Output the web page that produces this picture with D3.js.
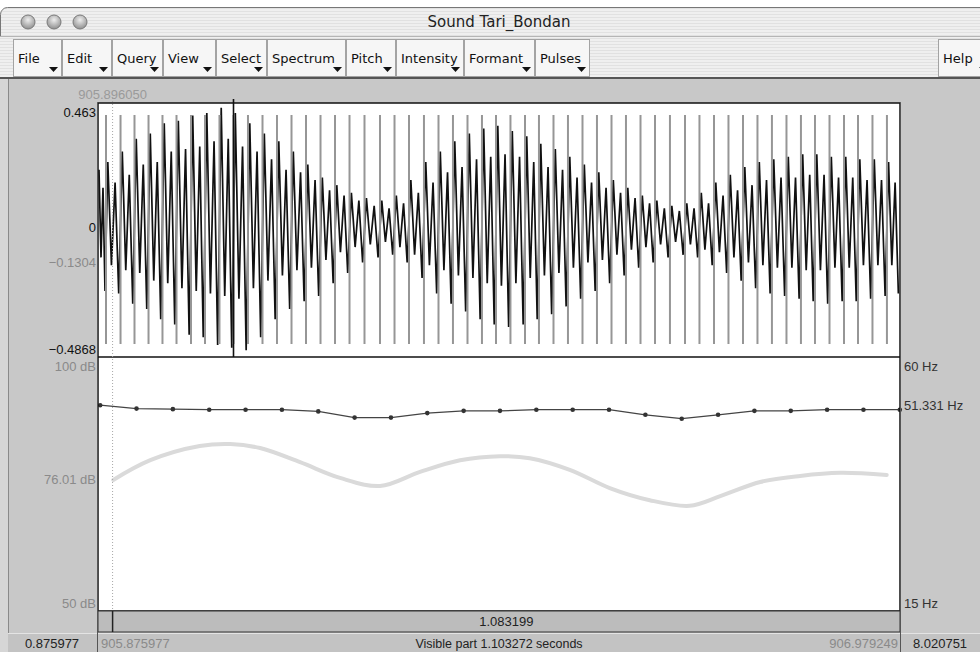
<!DOCTYPE html>
<html>
<head>
<meta charset="utf-8">
<script src="https://cdn.jsdelivr.net/npm/d3@7"></script>
<style>
body { margin: 0; background: #fff; }
svg { display: block; font-family: "Liberation Sans", Arial, sans-serif; }
</style>
</head>
<body>
<svg id="chart" width="980" height="652"></svg>
<script>
// Sound Tari_Bondan, visible window (seconds)
var soundStart = 905.0, soundEnd = 915.0;
var viewStart = 905.875977, viewEnd = 906.979249;
var cursorTime = 905.896050;

// values read at the cursor
var waveMax = 0.463, waveMin = -0.4868, cursorWave = -0.1304;
var cursorDb = 76.01, cursorHz = 51.331;
var dbRange = [50, 100], hzRange = [15, 60];

// glottal pulses, seconds after viewStart
var pulseTimes = [0.0110, 0.0310, 0.0502, 0.0695, 0.0887, 0.1080, 0.1279, 0.1472, 0.1671, 0.1864,
  0.2063, 0.2263, 0.2462, 0.2662, 0.2861, 0.3061, 0.3260, 0.3460, 0.3666, 0.3879,
  0.4079, 0.4278, 0.4484, 0.4684, 0.4883, 0.5083, 0.5282, 0.5475, 0.5674, 0.5874,
  0.6066, 0.6266, 0.6465, 0.6665, 0.6864, 0.7064, 0.7263, 0.7463, 0.7662, 0.7868,
  0.8075, 0.8274, 0.8474, 0.8673, 0.8873, 0.9072, 0.9271, 0.9471, 0.9670, 0.9863,
  1.0063, 1.0262, 1.0455, 1.0654, 1.0853];
var markedPulse = 0.1864;

// waveform peaks inside each period (before first pulse .. after last pulse)
var waveRows = [
  [0.22, -0.12, 0.15, -0.25], [0.25, -0.15, 0.17, -0.26], [0.29, -0.17, 0.20, -0.30], [0.34, -0.18, 0.24, -0.32],
  [0.36, -0.21, 0.25, -0.36], [0.40, -0.22, 0.29, -0.38], [0.41, -0.24, 0.30, -0.42], [0.43, -0.25, 0.31, -0.43],
  [0.44, -0.26, 0.33, -0.46], [0.46, -0.27, 0.34, -0.47], [0.44, -0.28, 0.31, -0.48], [0.40, -0.24, 0.29, -0.43],
  [0.36, -0.21, 0.26, -0.36], [0.33, -0.19, 0.22, -0.32], [0.29, -0.17, 0.21, -0.29], [0.24, -0.16, 0.18, -0.27],
  [0.19, -0.13, 0.14, -0.22], [0.16, -0.10, 0.12, -0.18], [0.13, -0.08, 0.10, -0.14], [0.11, -0.07, 0.08, -0.12],
  [0.10, -0.06, 0.07, -0.11], [0.12, -0.08, 0.09, -0.14], [0.18, -0.11, 0.13, -0.20], [0.25, -0.15, 0.17, -0.26],
  [0.29, -0.17, 0.21, -0.30], [0.33, -0.19, 0.23, -0.33], [0.36, -0.20, 0.26, -0.36], [0.38, -0.22, 0.27, -0.38],
  [0.39, -0.23, 0.28, -0.39], [0.37, -0.22, 0.27, -0.38], [0.35, -0.20, 0.25, -0.36], [0.32, -0.19, 0.23, -0.34],
  [0.30, -0.18, 0.22, -0.31], [0.27, -0.16, 0.19, -0.28], [0.24, -0.14, 0.17, -0.25], [0.21, -0.13, 0.15, -0.22],
  [0.18, -0.11, 0.13, -0.19], [0.15, -0.09, 0.11, -0.16], [0.12, -0.08, 0.09, -0.14], [0.10, -0.07, 0.07, -0.12],
  [0.08, -0.06, 0.06, -0.11], [0.09, -0.07, 0.07, -0.12], [0.13, -0.09, 0.09, -0.15], [0.17, -0.10, 0.12, -0.18],
  [0.20, -0.12, 0.14, -0.21], [0.23, -0.14, 0.16, -0.24], [0.25, -0.15, 0.18, -0.26], [0.26, -0.16, 0.19, -0.27],
  [0.27, -0.16, 0.19, -0.28], [0.28, -0.17, 0.20, -0.29], [0.28, -0.17, 0.20, -0.30], [0.27, -0.16, 0.19, -0.29],
  [0.27, -0.16, 0.19, -0.29], [0.26, -0.15, 0.18, -0.28], [0.26, -0.15, 0.18, -0.27], [0.25, -0.15, 0.17, -0.26]
];

// pitch track (Hz)
var pitchTimes = [0.003, 0.053, 0.103, 0.153, 0.203, 0.253, 0.303, 0.353, 0.403, 0.453, 0.503, 0.553,
  0.603, 0.653, 0.703, 0.753, 0.803, 0.853, 0.903, 0.953, 1.003, 1.053, 1.103];
var pitchHz = [51.6, 51.0, 50.9, 50.8, 50.8, 50.8, 50.5, 49.4, 49.4, 50.2, 50.6, 50.6,
  50.8, 50.8, 50.8, 49.9, 49.2, 49.9, 50.6, 50.6, 50.8, 50.8, 50.8];

// intensity contour (dB)
var intTimes = [0.021, 0.072, 0.140, 0.182, 0.223, 0.278, 0.333, 0.388, 0.443, 0.498, 0.553,
  0.594, 0.649, 0.704, 0.759, 0.814, 0.856, 0.911, 0.966, 1.021, 1.085];
var intDb = [75.9, 79.8, 82.6, 83.0, 82.2, 79.4, 76.3, 74.7, 77.5, 79.8, 80.6,
  80.2, 77.9, 74.3, 71.9, 70.8, 72.7, 75.5, 76.7, 77.3, 76.9];

var menuItems = ["File", "Edit", "Query", "View", "Select", "Spectrum", "Pitch", "Intensity", "Formant", "Pulses"];
var menuEdges = [13, 62, 112, 163, 216, 267, 346, 396, 464, 535, 590];

var svg = d3.select("#chart");
var W = 980, H = 652;
var fmt6 = d3.format(".6f");

// frame edges (note: "top" is taken by window.top, so prefix them)
var fL = 98, fR = 900, fT = 103, fM = 357, fB = 611;
var viewDur = viewEnd - viewStart;

var x = d3.scaleLinear().domain([0, viewDur]).range([fL, fR]);
var yWave = d3.scaleLinear().domain([waveMin, waveMax]).range([352, 107]);
var yDb = d3.scaleLinear().domain(dbRange).range([fB, fM + 1]);
var yHz = d3.scaleLinear().domain(hzRange).range([fB, fM + 1]);

var defs = svg.append("defs");
var pin = defs.append("pattern").attr("id", "pin")
  .attr("width", 4).attr("height", 3).attr("patternUnits", "userSpaceOnUse");
pin.append("rect").attr("width", 4).attr("height", 3).attr("fill", "#efefef");
pin.append("rect").attr("y", 2).attr("width", 4).attr("height", 1).attr("fill", "#e1e1e1");

var knob = defs.append("radialGradient").attr("id", "knob").attr("cx", "50%").attr("cy", "35%").attr("r", "65%");
knob.append("stop").attr("offset", "0%").attr("stop-color", "#eeeeee");
knob.append("stop").attr("offset", "100%").attr("stop-color", "#8f8f8f");

defs.append("clipPath").attr("id", "waveClip")
  .append("rect").attr("x", fL).attr("y", fT).attr("width", fR - fL).attr("height", fM - fT);

// ---- window chrome ----
svg.append("rect").attr("x", 0.5).attr("y", 7.5).attr("width", W + 10).attr("height", 40).attr("rx", 7)
  .attr("fill", "url(#pin)").attr("stroke", "#777");
svg.append("line").attr("x1", 0).attr("x2", W).attr("y1", 36.5).attr("y2", 36.5).attr("stroke", "#b5b5b5");

svg.selectAll("circle.knob").data([28, 54, 80]).enter().append("circle")
  .attr("class", "knob").attr("cx", function (d) { return d; }).attr("cy", 22).attr("r", 7)
  .attr("fill", "url(#knob)").attr("stroke", "#7a7a7a");

svg.append("text").attr("x", 499).attr("y", 27).attr("text-anchor", "middle")
  .style("font-family", "'DejaVu Sans', sans-serif").style("font-size", "15px").attr("fill", "#222")
  .text("Sound Tari_Bondan");

// menu bar
svg.append("rect").attr("x", 0).attr("y", 37).attr("width", W).attr("height", 41).attr("fill", "url(#pin)");

function menuButton(label, x0, x1) {
  var g = svg.append("g");
  g.append("rect").attr("x", x0 + 0.5).attr("y", 39.5).attr("width", x1 - x0 - 1).attr("height", 37)
    .attr("fill", "#f6f6f6").attr("stroke", "#a3a3a3");
  g.append("text").attr("x", x0 + 5).attr("y", 63)
    .style("font-family", "'DejaVu Sans', sans-serif").style("font-size", "13px").attr("fill", "#111")
    .text(label);
  g.append("path").attr("d", "M" + (x1 - 13) + ",67 h9 l-4.5,5 z").attr("fill", "#111");
}
menuItems.forEach(function (m, i) { menuButton(m, menuEdges[i], menuEdges[i + 1]); });
menuButton("Help", 938, 992);

svg.append("rect").attr("x", 0).attr("y", 77).attr("width", W).attr("height", 2).attr("fill", "#555");

// gray editor area
svg.append("rect").attr("x", 0).attr("y", 79).attr("width", W).attr("height", H - 79).attr("fill", "#c8c8c8");
svg.append("rect").attr("x", 0).attr("y", 79).attr("width", 8).attr("height", H - 79).attr("fill", "#d6d6d6");
svg.append("line").attr("x1", 8.5).attr("x2", 8.5).attr("y1", 79).attr("y2", H).attr("stroke", "#8a8a8a");

// plotting frame
svg.append("rect").attr("x", fL).attr("y", fT).attr("width", fR - fL).attr("height", fB - fT)
  .attr("fill", "#fff");

// ---- waveform + pulses ----
var bounds = [0].concat(pulseTimes, [viewDur]);
var wavePts = [];
waveRows.forEach(function (row, i) {
  var t0 = bounds[i], t1 = bounds[i + 1];
  row.forEach(function (v, j) { wavePts.push([t0 + (j + 0.5) / row.length * (t1 - t0), v]); });
});

var waveG = svg.append("g").attr("clip-path", "url(#waveClip)");
waveG.append("path").datum(wavePts)
  .attr("d", d3.line().x(function (d) { return x(d[0]); }).y(function (d) { return yWave(d[1]); }))
  .attr("fill", "none").attr("stroke", "#111").attr("stroke-width", 1.7);

waveG.selectAll("line.pulse").data(pulseTimes).enter().append("line")
  .attr("class", "pulse")
  .attr("x1", function (d) { return x(d); }).attr("x2", function (d) { return x(d); })
  .attr("y1", fT + 12).attr("y2", fM - 13)
  .attr("stroke", "#969696").attr("stroke-width", 2);

svg.append("line").attr("x1", x(markedPulse)).attr("x2", x(markedPulse))
  .attr("y1", fT - 4).attr("y2", fM)
  .attr("stroke", "#111").attr("stroke-width", 1.6);

// ---- intensity & pitch ----
var intData = intTimes.map(function (t, i) { return [t, intDb[i]]; });
svg.append("path").datum(intData)
  .attr("d", d3.line().curve(d3.curveCatmullRom)
    .x(function (d) { return x(d[0]); }).y(function (d) { return yDb(d[1]); }))
  .attr("fill", "none").attr("stroke", "#dadada").attr("stroke-width", 4).attr("stroke-linecap", "round");

var pitchData = pitchTimes.map(function (t, i) { return [t, pitchHz[i]]; });
svg.append("path").datum(pitchData)
  .attr("d", d3.line().x(function (d) { return x(d[0]); }).y(function (d) { return yHz(d[1]); }))
  .attr("fill", "none").attr("stroke", "#444").attr("stroke-width", 1.3);
svg.selectAll("circle.pitch").data(pitchData).enter().append("circle")
  .attr("class", "pitch")
  .attr("cx", function (d) { return x(d[0]); }).attr("cy", function (d) { return yHz(d[1]); })
  .attr("r", 2.3).attr("fill", "#333");

// frame lines
svg.append("rect").attr("x", fL).attr("y", fT).attr("width", fR - fL).attr("height", fB - fT)
  .attr("fill", "none").attr("stroke", "#111").attr("stroke-width", 1.5);
svg.append("line").attr("x1", fL).attr("x2", fR).attr("y1", fM).attr("y2", fM)
  .attr("stroke", "#111").attr("stroke-width", 1.5);

// ---- bottom bars ----
var xc = x(cursorTime - viewStart);
svg.append("rect").attr("x", fL).attr("y", fB).attr("width", fR - fL).attr("height", 21)
  .attr("fill", "#bcbcbc").attr("stroke", "#333");
svg.append("line").attr("x1", xc).attr("x2", xc).attr("y1", fB).attr("y2", fB + 21)
  .attr("stroke", "#222").attr("stroke-width", 1.5);
svg.append("text").attr("x", (xc + fR) / 2).attr("y", fB + 15).attr("text-anchor", "middle")
  .style("font-size", "13px").attr("fill", "#222")
  .text(fmt6(viewEnd - cursorTime));

var row2 = fB + 22;
[[8, fL - 1], [fL, fR], [fR + 1, W]].forEach(function (b) {
  svg.append("rect").attr("x", b[0]).attr("y", row2).attr("width", b[1] - b[0]).attr("height", H - row2)
    .attr("fill", "#c3c3c3");
  svg.append("line").attr("x1", b[0]).attr("x2", b[1]).attr("y1", row2 + 0.5).attr("y2", row2 + 0.5)
    .attr("stroke", "#e4e4e4");
});
svg.append("line").attr("x1", fL - 0.5).attr("x2", fL - 0.5).attr("y1", fT).attr("y2", H)
  .attr("stroke", "#555");
svg.append("line").attr("x1", fR + 0.5).attr("x2", fR + 0.5).attr("y1", fT).attr("y2", H)
  .attr("stroke", "#555");

var rowText = row2 + 15;
svg.append("text").attr("x", 52).attr("y", rowText).attr("text-anchor", "middle")
  .style("font-size", "13px").attr("fill", "#222").text(fmt6(viewStart - soundStart));
svg.append("text").attr("x", 940).attr("y", rowText).attr("text-anchor", "middle")
  .style("font-size", "13px").attr("fill", "#222").text(fmt6(soundEnd - viewEnd));
svg.append("text").attr("x", fL + 3).attr("y", rowText)
  .style("font-size", "13px").attr("fill", "#8a8a8a").text(fmt6(viewStart));
svg.append("text").attr("x", fR - 2).attr("y", rowText).attr("text-anchor", "end")
  .style("font-size", "13px").attr("fill", "#8a8a8a").text(fmt6(viewEnd));
svg.append("text").attr("x", (fL + fR) / 2).attr("y", rowText).attr("text-anchor", "middle")
  .style("font-size", "12.5px").attr("fill", "#222")
  .text("Visible part " + fmt6(viewDur) + " seconds");

// ---- cursor ----
svg.append("line").attr("x1", xc).attr("x2", xc).attr("y1", 98).attr("y2", fB)
  .attr("stroke", "#a8a8a8").attr("stroke-dasharray", "1,2");
svg.append("text").attr("x", xc).attr("y", 99).attr("text-anchor", "middle")
  .style("font-size", "13px").attr("fill", "#9a9a9a").text(fmt6(cursorTime));

// ---- axis labels ----
function label(xp, yp, txt, anchor, color) {
  svg.append("text").attr("x", xp).attr("y", yp).attr("dy", "0.35em").attr("text-anchor", anchor)
    .style("font-size", "13px").attr("fill", color).text(txt);
}
label(96, yWave(waveMax) + 5, String(waveMax), "end", "#111");
label(96, yWave(0) + 1, "0", "end", "#111");
label(96, yWave(cursorWave) + 2, String(cursorWave).replace("-", "\u2212"), "end", "#8a8a8a");
label(96, yWave(waveMin) - 3, String(waveMin).replace("-", "\u2212"), "end", "#111");

label(96, yDb(dbRange[1]) + 8, dbRange[1] + " dB", "end", "#8a8a8a");
label(96, yDb(cursorDb), cursorDb + " dB", "end", "#8a8a8a");
label(96, yDb(dbRange[0]) - 8, dbRange[0] + " dB", "end", "#8a8a8a");

label(904, yHz(hzRange[1]) + 8, hzRange[1] + " Hz", "start", "#333");
label(904, yHz(cursorHz) - 1, cursorHz + " Hz", "start", "#333");
label(904, yHz(hzRange[0]) - 8, hzRange[0] + " Hz", "start", "#333");
</script>
</body>
</html>
